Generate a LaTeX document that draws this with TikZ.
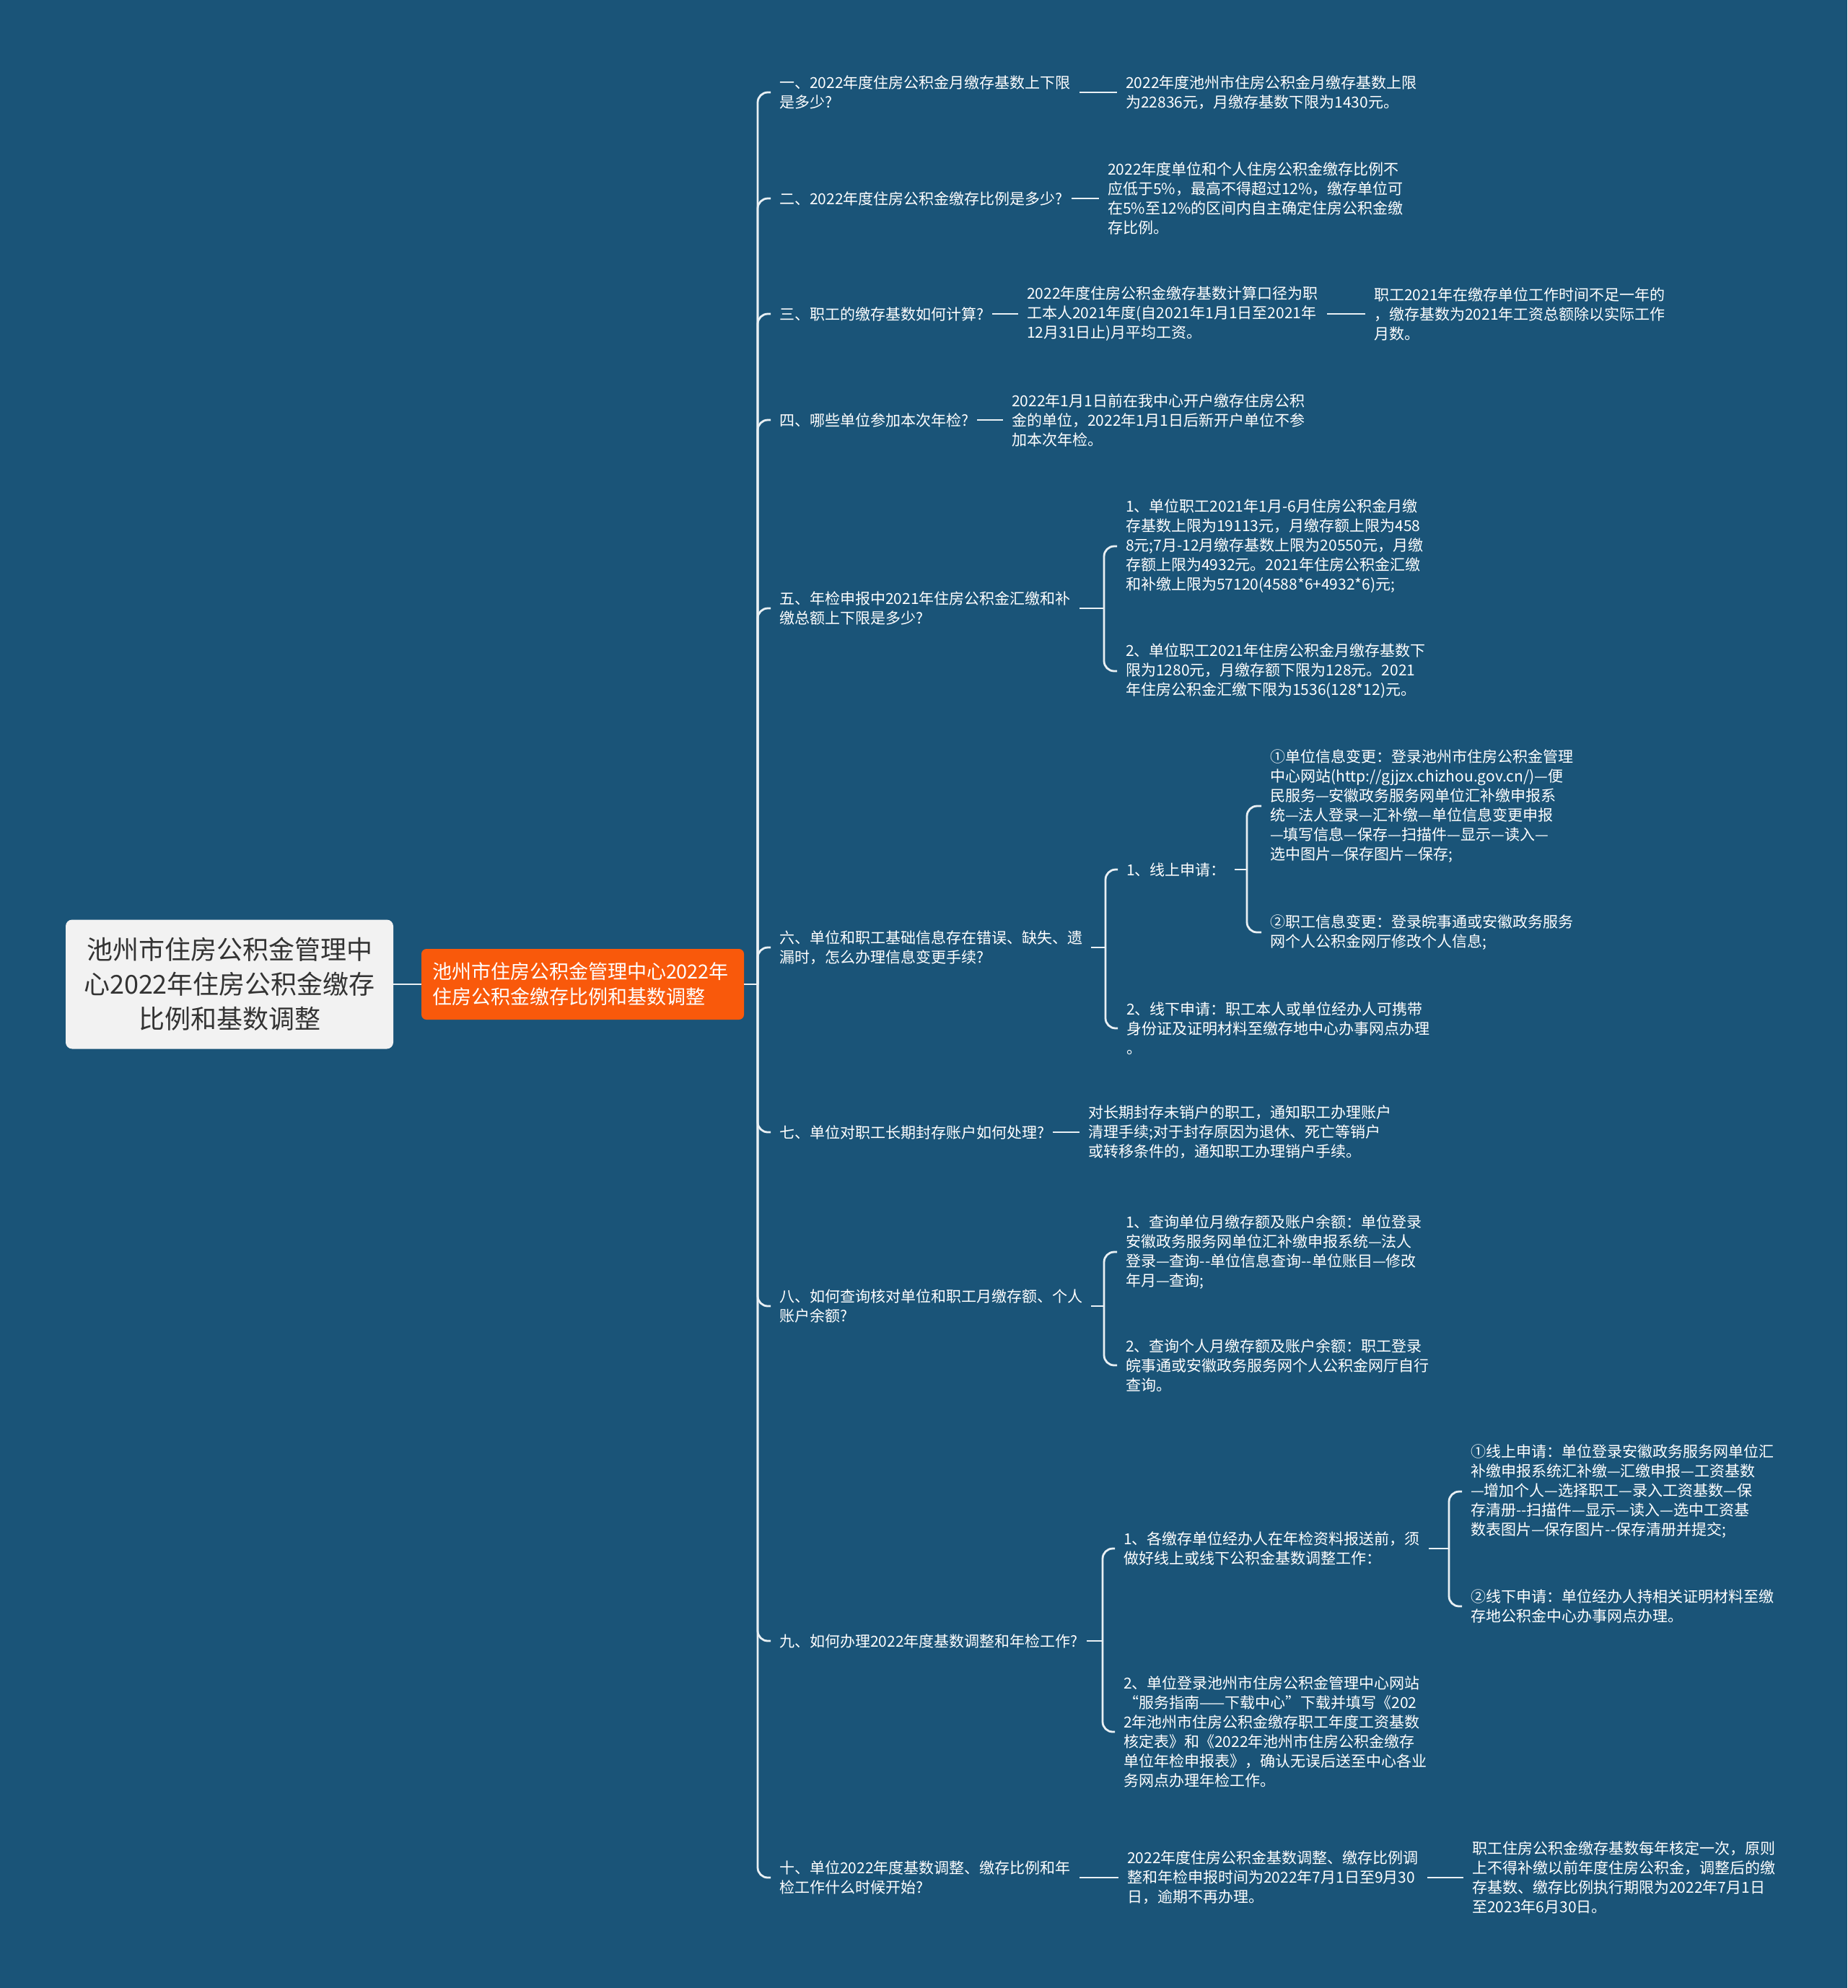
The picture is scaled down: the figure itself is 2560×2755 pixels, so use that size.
\documentclass[tikz,border=0pt]{standalone}
\usepackage{fontspec}
\setmainfont{Noto Sans CJK SC}
\definecolor{bgblue}{HTML}{1A5478}
\definecolor{rootgray}{HTML}{F2F2F2}
\definecolor{rootink}{HTML}{333333}
\definecolor{mainorange}{HTML}{F9590B}
\definecolor{linkwhite}{HTML}{E9F0F4}
\tikzset{
  topic/.style={anchor=west,align=left,text=white,inner xsep=12pt,inner ysep=2pt,font=\fontsize{21}{27}\selectfont},
  link/.style={draw=linkwhite,line width=2.8pt,rounded corners=14pt},
}
\begin{document}
\begin{tikzpicture}[x=1pt,y=-1pt]
\useasboundingbox (0,0) rectangle (2560,2755);
\fill[bgblue] (0,0) rectangle (2560,2755);
\node[fill=rootgray,rounded corners=9pt,minimum width=454pt,minimum height=179pt,align=center,text=rootink,font=\fontsize{36}{48}\selectfont] (root) at (318,1364) {池州市住房公积金管理中\\心2022年住房公积金缴存\\比例和基数调整};
\node[fill=mainorange,rounded corners=7pt,text width=417pt,inner xsep=15pt,minimum height=98pt,align=left,text=white,font=\fontsize{27}{35}\selectfont] (main) at (807.5,1364) {池州市住房公积金管理中心2022年\\住房公积金缴存比例和基数调整};
\node[topic] (q1) at (1068,128) {一、2022年度住房公积金月缴存基数上下限\\是多少?};
\node[topic] (a1) at (1548,128) {2022年度池州市住房公积金月缴存基数上限\\为22836元，月缴存基数下限为1430元。};
\node[topic] (q2) at (1068,275) {二、2022年度住房公积金缴存比例是多少?};
\node[topic] (a2) at (1523,275) {2022年度单位和个人住房公积金缴存比例不\\应低于5\%，最高不得超过12\%，缴存单位可\\在5\%至12\%的区间内自主确定住房公积金缴\\存比例。};
\node[topic] (q3) at (1068,435) {三、职工的缴存基数如何计算?};
\node[topic] (a3) at (1411,435) {2022年度住房公积金缴存基数计算口径为职\\工本人2021年度(自2021年1月1日至2021年\\12月31日止)月平均工资。};
\node[topic] (b3) at (1892,435) {职工2021年在缴存单位工作时间不足一年的\\，缴存基数为2021年工资总额除以实际工作\\月数。};
\node[topic] (q4) at (1068,582) {四、哪些单位参加本次年检?};
\node[topic] (a4) at (1390,582) {2022年1月1日前在我中心开户缴存住房公积\\金的单位，2022年1月1日后新开户单位不参\\加本次年检。};
\node[topic] (q5) at (1068,843) {五、年检申报中2021年住房公积金汇缴和补\\缴总额上下限是多少?};
\node[topic] (a5) at (1548,757) {1、单位职工2021年1月-6月住房公积金月缴\\存基数上限为19113元，月缴存额上限为458\\8元;7月-12月缴存基数上限为20550元，月缴\\存额上限为4932元。2021年住房公积金汇缴\\和补缴上限为57120(4588*6+4932*6)元;};
\node[topic] (b5) at (1548,930) {2、单位职工2021年住房公积金月缴存基数下\\限为1280元，月缴存额下限为128元。2021\\年住房公积金汇缴下限为1536(128*12)元。};
\node[topic] (q6) at (1068,1313) {六、单位和职工基础信息存在错误、缺失、遗\\漏时，怎么办理信息变更手续?};
\node[topic] (a6) at (1549,1205) {1、线上申请：};
\node[topic] (c6) at (1748,1117) {①单位信息变更：登录池州市住房公积金管理\\中心网站(http://gjjzx.chizhou.gov.cn/)—便\\民服务—安徽政务服务网单位汇补缴申报系\\统—法人登录—汇补缴—单位信息变更申报\\—填写信息—保存—扫描件—显示—读入—\\选中图片—保存图片—保存;};
\node[topic] (d6) at (1748,1292) {②职工信息变更：登录皖事通或安徽政务服务\\网个人公积金网厅修改个人信息;};
\node[topic] (b6) at (1549,1425) {2、线下申请：职工本人或单位经办人可携带\\身份证及证明材料至缴存地中心办事网点办理\\。};
\node[topic] (q7) at (1068,1569) {七、单位对职工长期封存账户如何处理?};
\node[topic] (a7) at (1496,1569) {对长期封存未销户的职工，通知职工办理账户\\清理手续;对于封存原因为退休、死亡等销户\\或转移条件的，通知职工办理销户手续。};
\node[topic] (q8) at (1068,1810) {八、如何查询核对单位和职工月缴存额、个人\\账户余额?};
\node[topic] (a8) at (1548,1735) {1、查询单位月缴存额及账户余额：单位登录\\安徽政务服务网单位汇补缴申报系统—法人\\登录—查询-{}-单位信息查询-{}-单位账目—修改\\年月—查询;};
\node[topic] (b8) at (1548,1892) {2、查询个人月缴存额及账户余额：职工登录\\皖事通或安徽政务服务网个人公积金网厅自行\\查询。};
\node[topic] (q9) at (1068,2274) {九、如何办理2022年度基数调整和年检工作?};
\node[topic] (a9) at (1545,2146) {1、各缴存单位经办人在年检资料报送前，须\\做好线上或线下公积金基数调整工作：};
\node[topic] (c9) at (2026,2067) {①线上申请：单位登录安徽政务服务网单位汇\\补缴申报系统汇补缴—汇缴申报—工资基数\\—增加个人—选择职工—录入工资基数—保\\存清册-{}-扫描件—显示—读入—选中工资基\\数表图片—保存图片-{}-保存清册并提交;};
\node[topic] (d9) at (2026,2226) {②线下申请：单位经办人持相关证明材料至缴\\存地公积金中心办事网点办理。};
\node[topic] (b9) at (1545,2400) {2、单位登录池州市住房公积金管理中心网站\\“服务指南——下载中心”下载并填写《202\\2年池州市住房公积金缴存职工年度工资基数\\核定表》和《2022年池州市住房公积金缴存\\单位年检申报表》，确认无误后送至中心各业\\务网点办理年检工作。};
\node[topic] (q10) at (1068,2602) {十、单位2022年度基数调整、缴存比例和年\\检工作什么时候开始?};
\node[topic] (a10) at (1550,2602) {2022年度住房公积金基数调整、缴存比例调\\整和年检申报时间为2022年7月1日至9月30\\日，逾期不再办理。};
\node[topic] (b10) at (2028,2602) {职工住房公积金缴存基数每年核定一次，原则\\上不得补缴以前年度住房公积金，调整后的缴\\存基数、缴存比例执行期限为2022年7月1日\\至2023年6月30日。};
\coordinate (hub) at (1050,1364);
\coordinate (f5) at (1530,843);
\coordinate (f6) at (1532,1313);
\coordinate (f6a) at (1728,1205);
\coordinate (f8) at (1530,1810);
\coordinate (f9) at (1528,2274);
\coordinate (f9a) at (2008,2146);
\draw[link] (root.east) -- (main.west);
\draw[link] (main.east) -- (hub);
\foreach \i in {1,...,10}
  \draw[link] (hub) |- (q\i.west);
\foreach \p/\c in {q1/a1,q2/a2,q3/a3,a3/b3,q4/a4,q7/a7,q10/a10,a10/b10}
  \draw[link] (\p.east) -- (\c.west);
\foreach \p/\f in {q5/f5,q6/f6,a6/f6a,q8/f8,q9/f9,a9/f9a}
  \draw[link] (\p.east) -- (\f);
\foreach \f/\c in {f5/a5,f5/b5,f6/a6,f6/b6,f6a/c6,f6a/d6,f8/a8,f8/b8,f9/a9,f9/b9,f9a/c9,f9a/d9}
  \draw[link] (\f) |- (\c.west);
\end{tikzpicture}
\end{document}
